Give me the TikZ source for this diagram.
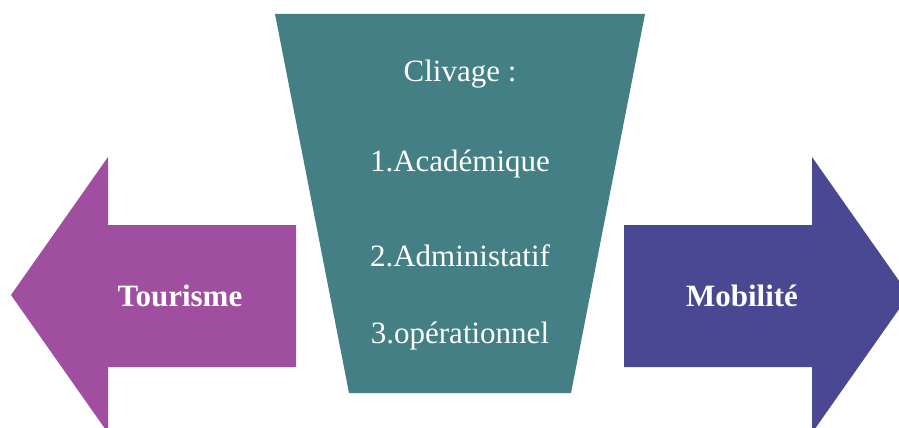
\documentclass[tikz,border=0pt]{standalone}
\usepackage{fontspec}
\setmainfont{Liberation Serif}
\usepackage{xcolor}
\usetikzlibrary{positioning}
\definecolor{tourpurple}{HTML}{A04EA0}
\definecolor{mobindigo}{HTML}{4B4893}
\definecolor{clivteal}{HTML}{437F84}
\tikzset{
  lbl/.style={text=white, font=\fontsize{31}{36}\selectfont},
  boldlbl/.style={lbl, font=\fontsize{31}{36}\selectfont\bfseries}
}

\begin{document}
\begin{tikzpicture}[x=1pt,y=-1pt]
        \clip (0,0) rectangle (899,428); % page frame
        \fill[tourpurple] (11,295) -- (108,157) -- (108,225) -- (296,225) -- (296,367) -- (108,367) -- (108,433) -- cycle; % left arrow
        \fill[mobindigo] (909,295) -- (812,157) -- (812,225) -- (624,225) -- (624,367) -- (812,367) -- (812,433) -- cycle; % right arrow
        \fill[clivteal] (275,14) -- (645,14) -- (571,393) -- (349,393) -- cycle; % funnel
        \node[boldlbl] (tour) at (180,296) {Tourisme};
        \node[boldlbl] (mob) at (742,296) {Mobilité};
        \node[lbl] (cliv) at (460,74) {Clivage :};
        \node[lbl] (acad) at (460,164) {1.Académique};
        \node[lbl] (admin) at (460,256) {2.Administatif};
        \node[lbl] (oper) at (460,336) {3.opérationnel};
    \end{tikzpicture}
\end{document}
